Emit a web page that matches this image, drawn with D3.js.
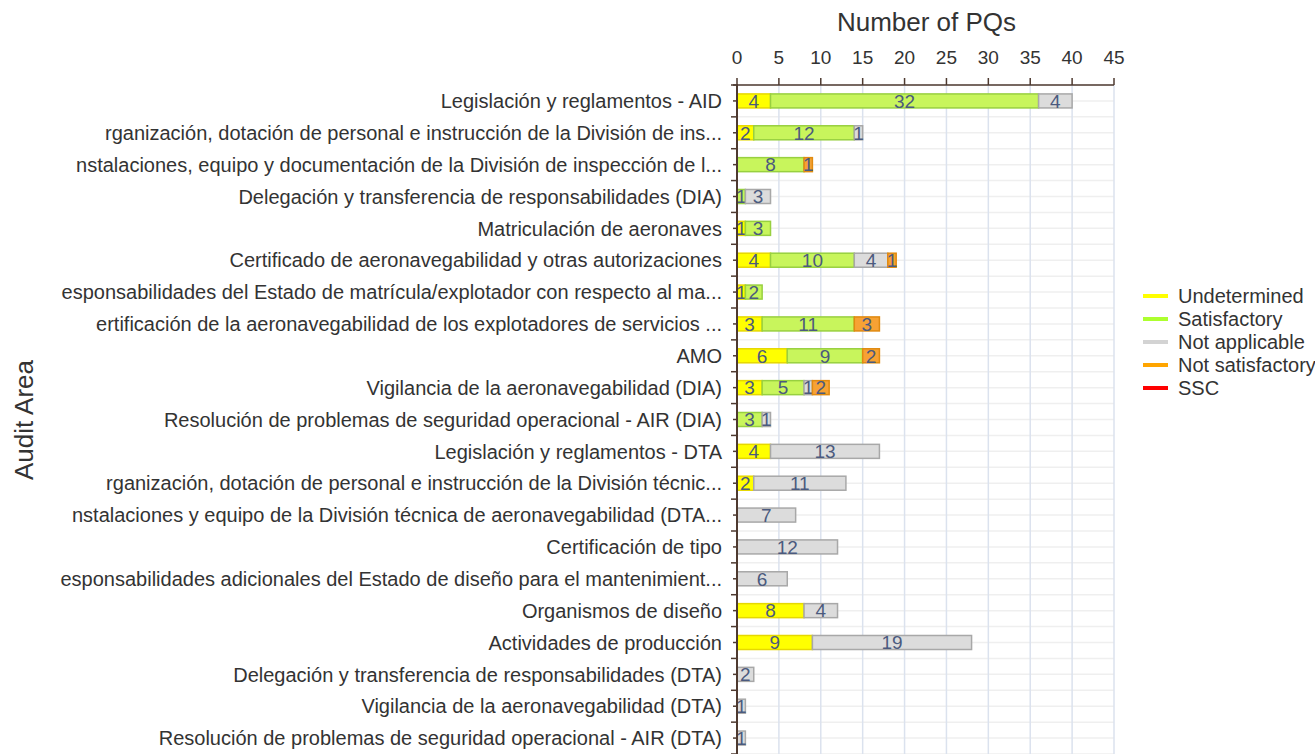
<!DOCTYPE html>
<html>
<head>
<meta charset="utf-8">
<script src="https://cdn.jsdelivr.net/npm/d3@7"></script>
<style>
  body { margin: 0; background: #fff; }
  text { font-family: "Liberation Sans", Arial, sans-serif; }
</style>
</head>
<body>
<div class="chart"></div>
<script>
var svgWidth = 1315;
var svgHeight = 754;

var margin = { top: 85, right: 201, bottom: 0, left: 737 };
var width = svgWidth - margin.left - margin.right;
var height = svgHeight - margin.top - margin.bottom;

var areas = [
    "Legislación y reglamentos - AID",
    "rganización, dotación de personal e instrucción de la División de ins...",
    "nstalaciones, equipo y documentación de la División de inspección de l...",
    "Delegación y transferencia de responsabilidades (DIA)",
    "Matriculación de aeronaves",
    "Certificado de aeronavegabilidad y otras autorizaciones",
    "esponsabilidades del Estado de matrícula/explotador con respecto al ma...",
    "ertificación de la aeronavegabilidad de los explotadores de servicios ...",
    "AMO",
    "Vigilancia de la aeronavegabilidad (DIA)",
    "Resolución de problemas de seguridad operacional - AIR (DIA)",
    "Legislación y reglamentos - DTA",
    "rganización, dotación de personal e instrucción de la División técnic...",
    "nstalaciones y equipo de la División técnica de aeronavegabilidad (DTA...",
    "Certificación de tipo",
    "esponsabilidades adicionales del Estado de diseño para el mantenimient...",
    "Organismos de diseño",
    "Actividades de producción",
    "Delegación y transferencia de responsabilidades (DTA)",
    "Vigilancia de la aeronavegabilidad (DTA)",
    "Resolución de problemas de seguridad operacional - AIR (DTA)"
];

var seriesNames = ["Undetermined", "Satisfactory", "Not applicable", "Not satisfactory", "SSC"];
var undetermined    = [4, 2, 0, 0, 1, 4, 1, 3, 6, 3, 0, 4, 2, 0, 0, 0, 8, 9, 0, 0, 0];
var satisfactory    = [32, 12, 8, 1, 3, 10, 2, 11, 9, 5, 3, 0, 0, 0, 0, 0, 0, 0, 0, 0, 0];
var notApplicable   = [4, 1, 0, 3, 0, 4, 0, 0, 0, 1, 1, 13, 11, 7, 12, 6, 4, 19, 2, 1, 1];
var notSatisfactory = [0, 0, 1, 0, 0, 1, 0, 3, 2, 2, 0, 0, 0, 0, 0, 0, 0, 0, 0, 0, 0];
var ssc             = [0, 0, 0, 0, 0, 0, 0, 0, 0, 0, 0, 0, 0, 0, 0, 0, 0, 0, 0, 0, 0];
var xTicks = [0, 5, 10, 15, 20, 25, 30, 35, 40, 45];

var fillColors = ["#ffff00", "#c8f55c", "#dcdcdc", "#f7a234", "#ff0000"];
var strokeColors = ["#e6d800", "#98d040", "#a8a8a8", "#e08a10", "#cc0000"];
var legendColors = ["#ffff00", "#adff2f", "#d3d3d3", "#ffa500", "#ff0000"];
var axisColor = "#4e3a30";
var textColor = "#333";
var valueColor = "#4b5a7e";

var rows = areas.map((a, i) => ({
    area: a,
    Undetermined: undetermined[i],
    Satisfactory: satisfactory[i],
    "Not applicable": notApplicable[i],
    "Not satisfactory": notSatisfactory[i],
    SSC: ssc[i]
}));

var stacked = d3.stack().keys(seriesNames)(rows);

var $svg = d3.select(".chart")
    .append("svg")
    .attr("width", svgWidth)
    .attr("height", svgHeight);

var $chart = $svg.append("g")
    .attr("transform", `translate(${margin.left}, ${margin.top})`);

var xScale = d3.scaleLinear().domain([0, 45]).range([0, width]);
var yScale = d3.scaleBand().domain(areas).range([0, height]).paddingInner(0.56).paddingOuter(0.28);
var yStep = yScale.step();

// grid: horizontal at row borders and centres, vertical every 5
var hLines = [];
areas.forEach((a, i) => { hLines.push(i * yStep); hLines.push(i * yStep + yStep / 2); });
hLines.push(height);
$chart.append("g").selectAll("line")
    .data(hLines).enter().append("line")
    .attr("x1", 0).attr("x2", xScale(45))
    .attr("y1", d => d).attr("y2", d => d)
    .attr("stroke", "#efefef").attr("stroke-width", 1.5);

$chart.append("g").selectAll("line")
    .data(xTicks.slice(1)).enter().append("line")
    .attr("x1", d => xScale(d)).attr("x2", d => xScale(d))
    .attr("y1", 0).attr("y2", height)
    .attr("stroke", "#dbe2ee").attr("stroke-width", 1.5);

// bars
var $layers = $chart.selectAll(".layer")
    .data(stacked).enter().append("g")
    .attr("class", "layer");

$layers.selectAll("rect")
    .data((d, k) => d.map(s => ({ s: s, k: k })))
    .enter().append("rect")
    .filter(d => d.s[1] - d.s[0] > 0)
    .attr("x", d => xScale(d.s[0]))
    .attr("y", d => yScale(d.s.data.area))
    .attr("width", d => xScale(d.s[1]) - xScale(d.s[0]))
    .attr("height", yScale.bandwidth())
    .attr("fill", d => fillColors[d.k])
    .attr("stroke", d => strokeColors[d.k])
    .attr("stroke-width", 1.5);

$layers.selectAll("text")
    .data((d, k) => d.map(s => ({ s: s, k: k })))
    .enter().append("text")
    .filter(d => d.s[1] - d.s[0] > 0)
    .attr("x", d => xScale((d.s[0] + d.s[1]) / 2))
    .attr("y", d => yScale(d.s.data.area) + yScale.bandwidth() / 2)
    .attr("dy", "0.36em")
    .attr("text-anchor", "middle")
    .attr("fill", valueColor)
    .style("font-size", "19px")
    .text(d => d.s[1] - d.s[0]);

// top axis
var $xAxis = $chart.append("g");
$xAxis.append("line")
    .attr("x1", -4).attr("x2", xScale(45))
    .attr("y1", 0).attr("y2", 0)
    .attr("stroke", axisColor).attr("stroke-width", 1.5);
$xAxis.selectAll(".tick")
    .data(xTicks).enter().append("line")
    .attr("x1", d => xScale(d)).attr("x2", d => xScale(d))
    .attr("y1", -7).attr("y2", 0)
    .attr("stroke", axisColor).attr("stroke-width", 1.5);
$xAxis.selectAll("text")
    .data(xTicks).enter().append("text")
    .attr("x", d => xScale(d))
    .attr("y", -21)
    .attr("text-anchor", "middle")
    .attr("fill", textColor)
    .style("font-size", "19px")
    .text(d => d);

$svg.append("text")
    .attr("x", margin.left + width / 2 + 1)
    .attr("y", 31)
    .attr("text-anchor", "middle")
    .attr("fill", textColor)
    .style("font-size", "26px")
    .text("Number of PQs");

// left axis
var $yAxis = $chart.append("g");
$yAxis.append("line")
    .attr("x1", 0).attr("x2", 0)
    .attr("y1", 0).attr("y2", height)
    .attr("stroke", axisColor).attr("stroke-width", 2);
$yAxis.selectAll(".border")
    .data(d3.range(areas.length + 1)).enter().append("line")
    .attr("x1", -6).attr("x2", 1)
    .attr("y1", d => d * yStep).attr("y2", d => d * yStep)
    .attr("stroke", axisColor).attr("stroke-width", 1.5);
$yAxis.selectAll(".center")
    .data(areas).enter().append("line")
    .attr("x1", -4).attr("x2", -1)
    .attr("y1", d => yScale(d) + yScale.bandwidth() / 2)
    .attr("y2", d => yScale(d) + yScale.bandwidth() / 2)
    .attr("stroke", axisColor).attr("stroke-width", 1.5);
$yAxis.selectAll("text")
    .data(areas).enter().append("text")
    .attr("x", -15)
    .attr("y", d => yScale(d) + yScale.bandwidth() / 2)
    .attr("dy", "0.36em")
    .attr("text-anchor", "end")
    .attr("fill", textColor)
    .style("font-size", "20px")
    .text(d => d);

$svg.append("text")
    .attr("transform", `translate(33, 420) rotate(-90)`)
    .attr("text-anchor", "middle")
    .attr("fill", textColor)
    .style("font-size", "26px")
    .text("Audit Area");

// legend
var $legend = $svg.append("g")
    .attr("transform", "translate(1143, 296)");
var $items = $legend.selectAll("g")
    .data(seriesNames).enter().append("g")
    .attr("transform", (d, i) => `translate(0, ${i * 23})`);
$items.append("line")
    .attr("x1", 0).attr("x2", 25)
    .attr("stroke", (d, i) => legendColors[i])
    .attr("stroke-width", 4);
$items.append("text")
    .attr("x", 35)
    .attr("dy", "0.36em")
    .attr("fill", textColor)
    .style("font-size", "20px")
    .text(d => d);
</script>
</body>
</html>
